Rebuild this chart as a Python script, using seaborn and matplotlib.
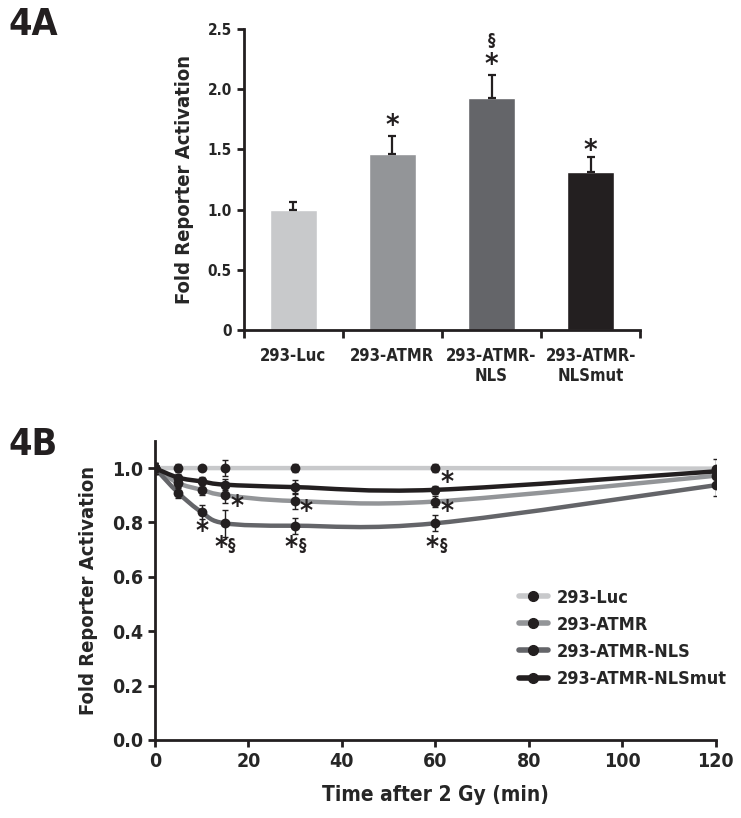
import numpy as np
import pandas as pd
import matplotlib
matplotlib.use("Agg")
import matplotlib.pyplot as plt
from matplotlib.path import Path
from matplotlib.patches import PathPatch
from matplotlib.lines import Line2D
import seaborn as sns

sns.set_style("ticks")
plt.rcParams["font.family"] = ["DejaVu Sans"]
plt.rcParams["font.stretch"] = "condensed"
plt.rcParams["font.weight"] = "bold"

# panel A: reporter activation per cell line
groups = ["293-Luc", "293-ATMR", "293-ATMR-\nNLS", "293-ATMR-\nNLSmut"]
fold_a = [1.00, 1.46, 1.93, 1.31]
err_a = [0.06, 0.15, 0.19, 0.13]

# panel B: time course after 2 Gy
time_min = [0, 5, 10, 15, 30, 60, 120]
series_names = ["293-Luc", "293-ATMR", "293-ATMR-NLS", "293-ATMR-NLSmut"]
luc = [1.0, 1.0, 1.0, 1.0, 1.0, 1.0, 0.998]
atmr = [1.0, 0.945, 0.92, 0.90, 0.879, 0.877, 0.972]
nls = [1.0, 0.909, 0.838, 0.797, 0.788, 0.797, 0.937]
nlsmut = [1.0, 0.965, 0.951, 0.939, 0.93, 0.92, 0.988]
luc_err = [0.02, 0.015, 0.0, 0.03, 0.015, 0.015, 0.01]
atmr_err = [0.02, 0.02, 0.02, 0.03, 0.03, 0.02, 0.01]
nls_err = [0.02, 0.02, 0.025, 0.05, 0.03, 0.03, 0.04]
nlsmut_err = [0.02, 0.015, 0.015, 0.02, 0.025, 0.015, 0.045]

colors = ["#c8c9cb", "#939598", "#646569", "#231f20"]
dark = "#231f20"


def smooth_path(x, y):
    # bezier curve through the points, like a spreadsheet "smoothed line"
    pts = np.column_stack([x, y]).astype(float)
    n = len(pts)
    verts = [tuple(pts[0])]
    codes = [Path.MOVETO]
    for i in range(n - 1):
        p0 = pts[max(i - 1, 0)]
        p1 = pts[i]
        p2 = pts[i + 1]
        p3 = pts[min(i + 2, n - 1)]
        c1 = p1 + (p2 - p0) / 6.0
        c2 = p2 - (p3 - p1) / 6.0
        verts += [tuple(c1), tuple(c2), tuple(p2)]
        codes += [Path.CURVE4] * 3
    return Path(verts, codes)


fig = plt.figure(figsize=(7.41, 8.18), dpi=100)

# ---------------- 4A ----------------
ax1 = fig.add_axes([0.329, 0.5966, 0.535, 0.368])
df_a = pd.DataFrame({"group": groups, "fold": fold_a})
sns.barplot(data=df_a, x="group", y="fold", hue="group", palette=colors,
            width=0.475, legend=False, ax=ax1, saturation=1)
ax1.errorbar(range(len(groups)), fold_a, yerr=[np.zeros(len(err_a)), err_a],
             fmt="none", ecolor=dark, elinewidth=1.6, capsize=3, capthick=1.6)
ax1.set_xlim(-0.5, 3.5)
ax1.set_ylim(0, 2.5)
ax1.set_yticks([0, 0.5, 1.0, 1.5, 2.0, 2.5])
ax1.set_yticklabels(["0", "0.5", "1.0", "1.5", "2.0", "2.5"])
ax1.set_xticks([-0.5, 0.5, 1.5, 2.5, 3.5])
ax1.set_xticklabels([])
ax1.set_xticks(range(len(groups)), minor=True)
ax1.set_xticklabels(groups, minor=True, fontsize=12, fontweight="bold")
ax1.tick_params(axis="x", which="minor", length=0, pad=12)
ax1.tick_params(axis="x", which="major", length=6, width=2, color=dark)
ax1.tick_params(axis="y", labelsize=11, length=5, width=2, color=dark)
ax1.set_xlabel("")
ax1.set_ylabel("Fold Reporter Activation", fontsize=14.5, fontweight="bold", labelpad=10)
sns.despine(ax=ax1)
for s in ["left", "bottom"]:
    ax1.spines[s].set_linewidth(2)
    ax1.spines[s].set_color(dark)

ax1.text(1, 1.69, "*", ha="center", va="center", fontsize=21, fontweight="bold", color=dark)
ax1.text(2, 2.20, "*", ha="center", va="center", fontsize=21, fontweight="bold", color=dark)
ax1.text(2, 2.40, "§", ha="center", va="center", fontsize=12, fontweight="bold", color=dark)
ax1.text(3, 1.49, "*", ha="center", va="center", fontsize=21, fontweight="bold", color=dark)

fig.text(0.011, 0.992, "4A", fontsize=27, fontweight="bold", color=dark, va="top")

# ---------------- 4B ----------------
ax2 = fig.add_axes([0.209, 0.0954, 0.757, 0.3656])
all_vals = [luc, atmr, nls, nlsmut]
all_errs = [luc_err, atmr_err, nls_err, nlsmut_err]
rows = []
for name, vals, errs in zip(series_names, all_vals, all_errs):
    for t, v, e in zip(time_min, vals, errs):
        rows.append({"time": t, "fold": v, "err": e, "line": name})
df_b = pd.DataFrame(rows)

for name, col in zip(series_names, colors):
    sub = df_b[df_b["line"] == name]
    ax2.add_patch(PathPatch(smooth_path(sub["time"], sub["fold"]), fill=False,
                            ec=col, lw=3.2, capstyle="round", zorder=2))
for name in series_names:
    sub = df_b[df_b["line"] == name]
    ax2.errorbar(sub["time"], sub["fold"], yerr=sub["err"], fmt="none",
                 ecolor=dark, elinewidth=1.0, capsize=2.5, capthick=1.0, zorder=3)
sns.scatterplot(data=df_b, x="time", y="fold", color=dark, s=50,
                edgecolor=dark, linewidth=0, ax=ax2, zorder=4, legend=False)

ax2.set_xlim(0, 120)
ax2.set_ylim(0, 1.1)
ax2.set_xticks(range(0, 121, 20))
ax2.set_yticks([0.0, 0.2, 0.4, 0.6, 0.8, 1.0])
ax2.set_yticklabels(["0.0", "0.2", "0.4", "0.6", "0.8", "1.0"])
ax2.tick_params(labelsize=14, length=5, width=2, color=dark)
ax2.set_xlabel("Time after 2 Gy (min)", fontsize=15, fontweight="bold", labelpad=10)
ax2.set_ylabel("Fold Reporter Activation", fontsize=14.5, fontweight="bold", labelpad=10)
sns.despine(ax=ax2)
for s in ["left", "bottom"]:
    ax2.spines[s].set_linewidth(2)
    ax2.spines[s].set_color(dark)
for lab in ax2.get_xticklabels() + ax2.get_yticklabels() + ax1.get_yticklabels():
    lab.set_fontweight("bold")

star_kw = dict(ha="center", va="center", fontsize=20, fontweight="bold", color=dark)
ax2.text(10.2, 0.765, "*", **star_kw)
ax2.text(17.5, 0.856, "*", **star_kw)
ax2.text(32.4, 0.840, "*", **star_kw)
ax2.text(62.5, 0.838, "*", **star_kw)
ax2.text(62.5, 0.944, "*", **star_kw)
for t in [14.1, 29.2, 59.4]:
    ax2.text(t, 0.705, "*", **star_kw)
    ax2.text(t + 2.4, 0.712, "§", ha="center", va="center", fontsize=12,
             fontweight="bold", color=dark)

handles = [Line2D([0], [0], color=c, lw=4, marker="o", markersize=7,
                  markerfacecolor=dark, markeredgecolor=dark) for c in colors]
leg = ax2.legend(handles, series_names, loc="upper left", bbox_to_anchor=(0.62, 0.56),
                 frameon=False, handlelength=1.6, handletextpad=0.5,
                 labelspacing=0.5, prop={"weight": "bold", "size": 13,
                                         "stretch": "condensed"})

fig.text(0.011, 0.478, "4B", fontsize=27, fontweight="bold", color=dark, va="top")

fig.savefig("out.png", dpi=100)
